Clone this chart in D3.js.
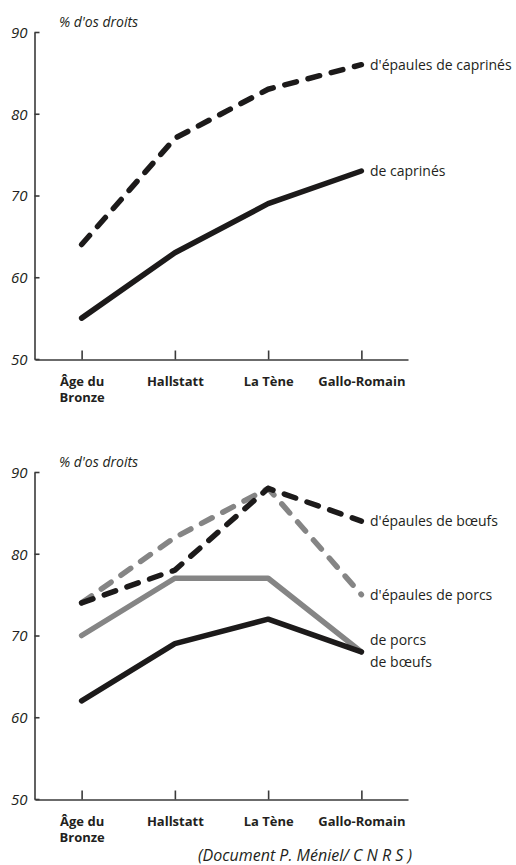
<!DOCTYPE html>
<html>
<head>
<meta charset="utf-8">
<script src="https://cdn.jsdelivr.net/npm/d3@7"></script>
<style>
  body { margin: 0; background: #fff; }
  text { font-family: "Open Sans", sans-serif; fill: #231f20; }
</style>
</head>
<body>
<script>
// data
var periods = ["Âge du Bronze", "Hallstatt", "La Tène", "Gallo-Romain"];
var periodLabels = [["Âge du", "Bronze"], ["Hallstatt"], ["La Tène"], ["Gallo-Romain"]];
var yTicks = [50, 60, 70, 80, 90];

// top chart : caprinés
var epaulesCaprines = [64, 77, 83, 86];
var caprines = [55, 63, 69, 73];

// bottom chart : bœufs et porcs
var epaulesBoeufs = [74, 78, 88, 84];
var epaulesPorcs = [74, 82, 88, 75];
var porcs = [70, 77, 77, 68];
var boeufs = [62, 69, 72, 68];

var width = 516, height = 865;

var svg = d3.select("body")
    .append("svg")
    .attr("width", width)
    .attr("height", height);

var xScale = d3.scalePoint()
    .domain(periods)
    .range([35, 408])
    .padding(0.5);

function drawChart(offset, series) {
    var g = svg.append("g").attr("transform", "translate(0," + offset + ")");

    var yScale = d3.scaleLinear()
        .domain([50, 90])
        .range([359, 32]);

    // y axis
    var yAxis = d3.axisLeft(yScale)
        .tickValues(yTicks)
        .tickSize(-5)
        .tickSizeOuter(0)
        .tickPadding(7);

    var ya = g.append("g")
        .attr("transform", "translate(34.5,0)")
        .call(yAxis);
    ya.selectAll("text")
        .style("font-size", "15px")
        .style("font-style", "italic")
        .attr("dy", "0.36em");
    ya.selectAll("path, line").attr("stroke", "#3a3a3a").attr("stroke-width", 1.6);

    // x axis
    var xAxis = d3.axisBottom(xScale)
        .tickSize(-9)
        .tickSizeOuter(0)
        .tickFormat("");

    var xa = g.append("g")
        .attr("transform", "translate(0,359.5)")
        .call(xAxis);
    xa.selectAll("path, line").attr("stroke", "#3a3a3a").attr("stroke-width", 1.6);

    xa.selectAll(".tick").each(function(d, i) {
        var t = d3.select(this).append("text")
            .attr("text-anchor", "middle")
            .attr("y", 26)
            .style("font-size", "13px")
            .style("font-weight", "bold");
        periodLabels[i].forEach(function(line, j) {
            t.append("tspan").attr("x", 0).attr("dy", j === 0 ? 0 : 16.5).text(line);
        });
    });

    // axis title
    g.append("text")
        .attr("x", 59)
        .attr("y", 27)
        .style("font-size", "14px")
        .style("font-style", "italic")
        .text("% d'os droits");

    var line = d3.line()
        .x(function(d, i) { return xScale(periods[i]); })
        .y(function(d) { return yScale(d); });

    series.forEach(function(s) {
        g.append("path")
            .datum(s.values)
            .attr("fill", "none")
            .attr("stroke", s.color)
            .attr("stroke-width", 5.5)
            .attr("stroke-linecap", "round")
            .attr("stroke-linejoin", "round")
            .attr("stroke-dasharray", s.dashed ? "12,12" : null)
            .attr("d", line);
    });

    series.forEach(function(s) {
        g.append("text")
            .attr("x", 370)
            .attr("y", yScale(s.values[3]) + s.dy)
            .attr("dy", "0.35em")
            .style("font-size", "14px")
            .text(s.label);
    });
}

drawChart(0, [
    { label: "de caprinés", values: caprines, color: "#1c1a1a", dashed: false, dy: 0 },
    { label: "d'épaules de caprinés", values: epaulesCaprines, color: "#1c1a1a", dashed: true, dy: 0 }
]);

drawChart(440, [
    { label: "de porcs", values: porcs, color: "#858585", dashed: false, dy: -12 },
    { label: "d'épaules de porcs", values: epaulesPorcs, color: "#858585", dashed: true, dy: 0 },
    { label: "de bœufs", values: boeufs, color: "#1c1a1a", dashed: false, dy: 10 },
    { label: "d'épaules de bœufs", values: epaulesBoeufs, color: "#1c1a1a", dashed: true, dy: 0 }
]);

// source
svg.append("text")
    .attr("x", 412)
    .attr("y", 861)
    .attr("text-anchor", "end")
    .style("font-size", "16px")
    .style("font-style", "italic")
    .text("(Document P. Méniel/ C N R S )");
</script>
</body>
</html>
